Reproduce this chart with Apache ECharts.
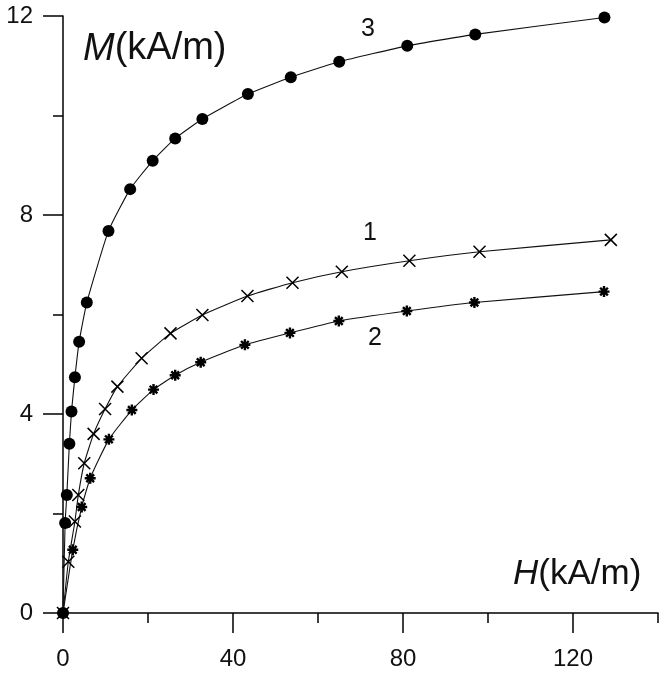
<!DOCTYPE html>
<html>
<head>
<meta charset="utf-8">
<script src="https://cdn.jsdelivr.net/npm/echarts@6/dist/echarts.min.js"></script>
<style>
  html, body { margin: 0; padding: 0; background: #fff; }
  #chart { width: 661px; height: 675px; }
</style>
</head>
<body>
<div id="chart"></div>
<script>
// Кривые намагничивания M(H), три образца (1 — крестики, 2 — звёздочки, 3 — точки)
const h1 = [0, 1.25, 2.8, 3.6, 5.0, 7.2, 9.9, 12.8, 18.5, 25.3, 32.8, 43.4, 54.0, 65.6, 81.5, 98.0, 128.9];
const m1 = [0, 1.03, 1.84, 2.37, 3.01, 3.60, 4.10, 4.55, 5.12, 5.62, 5.99, 6.37, 6.64, 6.86, 7.08, 7.26, 7.50];

const h2 = [0, 2.3, 4.4, 6.4, 10.8, 16.2, 21.3, 26.4, 32.4, 42.8, 53.4, 64.9, 80.9, 96.8, 127.3];
const m2 = [0, 1.27, 2.13, 2.71, 3.49, 4.08, 4.49, 4.78, 5.04, 5.39, 5.63, 5.87, 6.07, 6.24, 6.46];

const h3 = [0, 0.5, 0.9, 1.5, 2.0, 2.8, 3.8, 5.6, 10.7, 15.8, 21.1, 26.4, 32.8, 43.5, 53.6, 65.0, 81.0, 97.0, 127.4];
const m3 = [0, 1.81, 2.37, 3.40, 4.05, 4.74, 5.45, 6.24, 7.68, 8.52, 9.09, 9.54, 9.93, 10.43, 10.77, 11.08, 11.40, 11.63, 11.97];

const xMajor = [0, 40, 80, 120];
const curveNames = ['1', '2', '3'];

const FONT = '"Liberation Sans", Arial, sans-serif';
const pairs = (xs, ys) => xs.map((x, i) => [x, ys[i]]);

const crossPath = 'path://M0,0L12,12M12,0L0,12';
const starPath = 'path://M6,0L6,12M0,6L12,6M1.8,1.8L10.2,10.2M10.2,1.8L1.8,10.2';

function curve(name, data, symbol, size, bw) {
  return {
    name,
    type: 'line',
    data,
    smooth: 0.15,
    symbol,
    symbolSize: size,
    symbolKeepAspect: true,
    showAllSymbol: true,
    lineStyle: { color: '#111', width: 1.1 },
    itemStyle: { color: '#000', borderColor: '#000', borderWidth: bw },
    silent: true,
    z: 3,
  };
}

const chart = echarts.init(document.getElementById('chart'), null, { renderer: 'canvas' });

chart.setOption({
  animation: false,
  backgroundColor: '#fff',
  grid: { left: 63, top: 16, right: 3, bottom: 62, containLabel: false },
  xAxis: [
    {
      type: 'value', min: 0, max: 140, interval: 20, position: 'bottom',
      axisLine: { show: true, lineStyle: { color: '#000', width: 1.5 } },
      axisTick: { show: true, inside: false, length: 10, lineStyle: { color: '#000', width: 1.5 } },
      axisLabel: { show: false },
      splitLine: { show: false },
    },
    {
      type: 'value', min: 0, max: 140, interval: 20, position: 'bottom',
      axisLine: { show: false },
      axisTick: { show: true, length: 20, customValues: xMajor, lineStyle: { color: '#000', width: 1.5 } },
      axisLabel: {
        show: true, customValues: xMajor, margin: 34,
        color: '#111', fontSize: 24, fontFamily: FONT,
      },
      splitLine: { show: false },
    },
  ],
  yAxis: {
    type: 'value', min: 0, max: 12, interval: 4,
    axisLine: { show: true, lineStyle: { color: '#000', width: 1.5 } },
    axisTick: { show: true, length: 20, lineStyle: { color: '#000', width: 1.5 } },
    minorTick: { show: true, splitNumber: 2, length: 10, lineStyle: { color: '#000', width: 1.5 } },
    axisLabel: { margin: 30, color: '#111', fontSize: 24, fontFamily: FONT },
    splitLine: { show: false },
    minorSplitLine: { show: false },
  },
  series: [
    curve(curveNames[0], pairs(h1, m1), crossPath, 12, 1.5),
    curve(curveNames[1], pairs(h2, m2), starPath, 11, 2.4),
    curve(curveNames[2], pairs(h3, m3), 'circle', 12, 0),
  ],
  graphic: [
    {
      type: 'text', left: 83, top: 30, z: 10,
      style: {
        text: '{i|M}{n|(kA/m)}',
        rich: {
          i: { fontSize: 38, fontStyle: 'italic', fontFamily: FONT, fill: '#111' },
          n: { fontSize: 38, fontFamily: FONT, fill: '#111' },
        },
      },
    },
    {
      type: 'text', left: 513, top: 557, z: 10,
      style: {
        text: '{i|H}{n|(kA/m)}',
        rich: {
          i: { fontSize: 35, fontStyle: 'italic', fontFamily: FONT, fill: '#111' },
          n: { fontSize: 35, fontFamily: FONT, fill: '#111' },
        },
      },
    },
    { type: 'text', x: 368, y: 29, z: 10,
      style: { text: curveNames[2], fontSize: 25, fontFamily: FONT, fill: '#111', align: 'center', verticalAlign: 'middle' } },
    { type: 'text', x: 370, y: 233, z: 10,
      style: { text: curveNames[0], fontSize: 25, fontFamily: FONT, fill: '#111', align: 'center', verticalAlign: 'middle' } },
    { type: 'text', x: 375, y: 338, z: 10,
      style: { text: curveNames[1], fontSize: 25, fontFamily: FONT, fill: '#111', align: 'center', verticalAlign: 'middle' } },
  ],
});
</script>
</body>
</html>
